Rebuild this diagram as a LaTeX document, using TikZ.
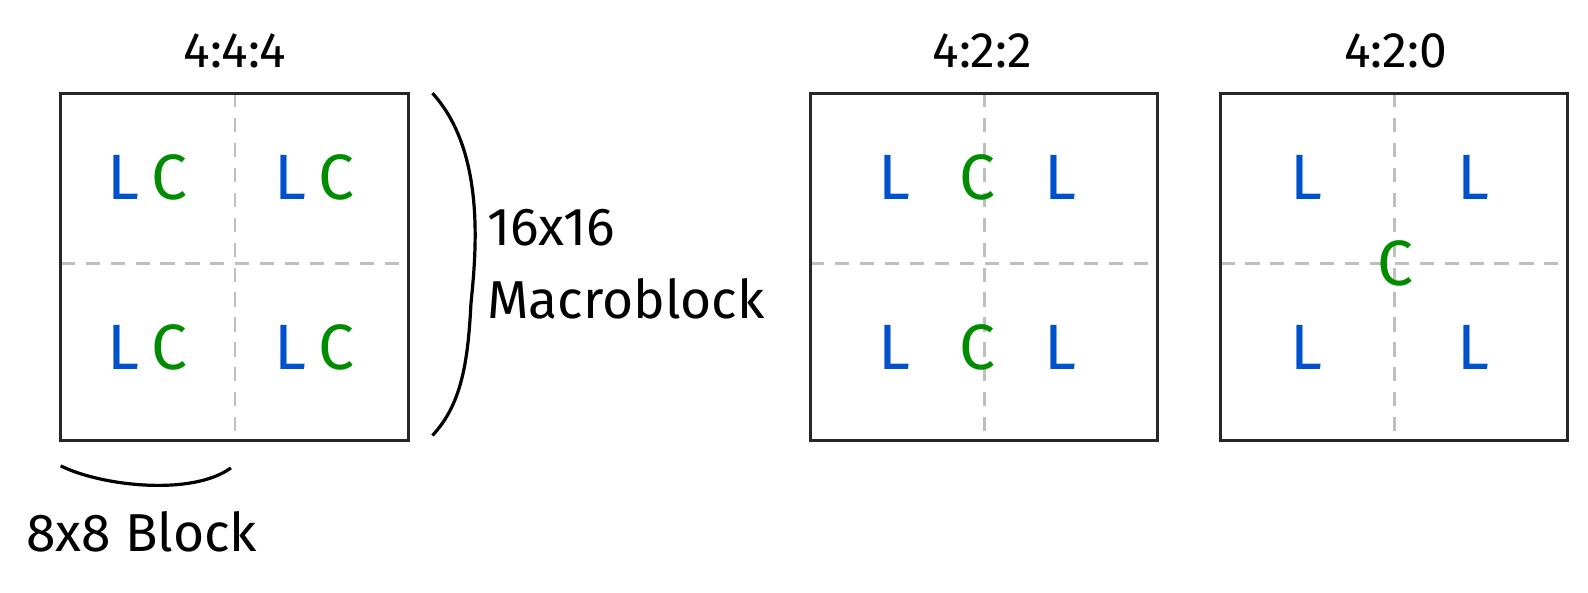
\documentclass[tikz,border=0pt]{standalone}
\usepackage{fontspec}
\setmainfont{Fira Sans}
\begin{document}
\begin{tikzpicture}[x=0.02cm,y=-0.02cm,
  box/.style={draw=black!85,line width=1.8pt},
  grid/.style={draw=gray!50,line width=1.4pt,dash pattern=on 8pt off 6pt},
  lum/.style={text=blue!60!cyan!80!black,font=\fontsize{36}{40}\selectfont},
  chr/.style={text=green!55!black,font=\fontsize{36}{40}\selectfont},
  ttl/.style={font=\fontsize{28}{32}\selectfont},
  lbl/.style={font=\fontsize{30}{34}\selectfont,anchor=west}]
\useasboundingbox (0,0) rectangle (1568,584.6);
\foreach \n/\x in {a/60,b/800,c/1205}{
  \coordinate (\n1) at (\x,92);
  \coordinate (\n2) at (\x+343,435);
  \draw[grid] (\x+172,92) -- (\x+172,435);
  \draw[grid] (\x,260) -- (\x+343,260);
  \draw[box] (\n1) rectangle (\n2);
}
\node[ttl] (t1) at (232,50) {4:4:4};
\node[ttl] (t2) at (970,50) {4:2:2};
\node[ttl] (t3) at (1378,50) {4:2:0};
\foreach \y/\r in {175/u,343/d}{
  \node[lum] (l1\r) at (122,\y) {L}; \node[chr] (c1\r) at (167,\y) {C};
  \node[lum] (l2\r) at (287,\y) {L}; \node[chr] (c2\r) at (332,\y) {C};
  \node[lum] (l3\r) at (883,\y) {L}; \node[chr] (c3\r) at (965,\y) {C};
  \node[lum] (l4\r) at (1047,\y) {L};
  \node[lum] (l5\r) at (1290,\y) {L}; \node[lum] (l6\r) at (1455,\y) {L};
}
\node[chr] (c5) at (1378,260) {C};
\coordinate (br1) at (427,92); \coordinate (br2) at (427,430);
\draw[line width=1.8pt] (br1) .. controls (480,150) and (470,250) .. (465,300) .. controls (462,360) and (455,400) .. (br2);
\coordinate (bb1) at (60,460); \coordinate (bb2) at (228,462);
\draw[line width=1.8pt] (bb1) .. controls (100,480) and (190,490) .. (bb2);
\node[lbl] (m1) at (475,225) {16x16};
\node[lbl] (m2) at (475,295) {Macroblock};
\node[lbl] (b1) at (20,525) {8x8 Block};
\end{tikzpicture}
\end{document}
